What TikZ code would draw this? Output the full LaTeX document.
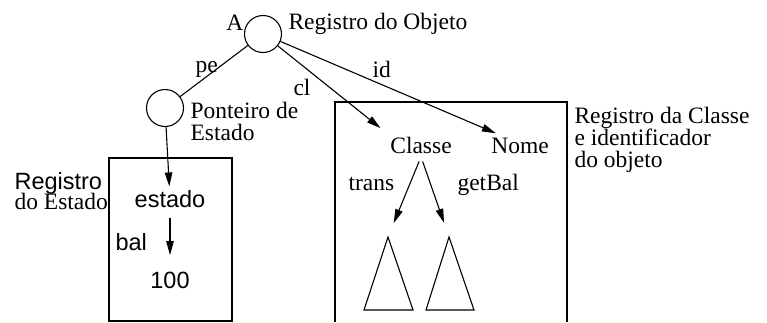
\documentclass[tikz,border=0pt]{standalone}
\usepackage{fontspec}
\setmainfont{Liberation Serif}
\setsansfont{Liberation Sans}
\usetikzlibrary{positioning, arrows.meta}
\tikzset{
    ptr/.style = {draw, circle, minimum size = 37pt, inner sep = 0pt},
    lbl/.style = {inner sep = 0pt, anchor = base west},
    txt/.style = {inner sep = 0pt, anchor = north west, align = left},
    field/.style = {inner sep = 3pt, anchor = base, font = \sffamily},
    member/.style = {inner sep = 3pt, anchor = base},
    line/.style = {-{Triangle[length = 14pt, width = 7.5pt]}}
}
\begin{document}
\fontsize{23.5}{22}\selectfont
\begin{tikzpicture}[x = 1pt, y = -1pt, line width = 1.1pt]

    \useasboundingbox (0,0) rectangle (767,322);

    % object record
    \node[ptr] (obj) at (263,34) {};
    \node[lbl, anchor = base east] (objname) at (244,30) {A};
    \node[lbl] (objrec) at (288,29) {Registro do Objeto};

    % state pointer
    \node[ptr] (pe) at (165,108) {};
    \node[txt] (perec) at (190,102) {Ponteiro de\\Estado};
    \node[lbl] (pelbl) at (195,72) {pe};
    \node[lbl] (cllbl) at (293,95) {cl};
    \node[lbl] (idlbl) at (372,77) {id};

    % state record
    \draw (109,158) rectangle (232,321);
    \node[txt] (strec) at (14,172) {{\sffamily Registro}\\[-2pt]do Estado};
    \node[field] (estado) at (170,207) {estado};
    \node[field, anchor = base west, inner sep = 0pt] (bal) at (115,250) {bal};
    \node[field] (val) at (170,288) {100};

    % class record
    \draw (335,322) -- (335,102) -- (567,102) -- (567,322);
    \node[txt] (clrec) at (574,107) {Registro da Classe\\e identificador\\do objeto};
    \node[member] (classe) at (421,153) {Classe};
    \node[member] (nome) at (520,153) {Nome};
    \node[lbl] (trans) at (348,190) {trans};
    \node[lbl] (getbal) at (457,190) {getBal};

    \draw (364,310) -- (388,237) coordinate (mtrans) -- (413,310) -- cycle;
    \draw (426,310) -- (449,237) coordinate (mget) -- (474,310) -- cycle;

    \draw (obj) -- (pe);
    \draw[line, shorten > = 8pt] (obj) -- (classe.north west);
    \draw[line, shorten > = 2pt] (obj) -- ([xshift = 10pt]nome.north west);
    \draw[line] (pe) -- (estado);
    \draw[line, shorten < = 7pt, shorten > = 13pt] (estado) -- (val);
    \draw[line, shorten < = 5pt, shorten > = 15pt] (classe.south) -- (mtrans);
    \draw[line, shorten < = 5pt, shorten > = 15pt] (classe.south) -- (mget);

\end{tikzpicture}
\end{document}
